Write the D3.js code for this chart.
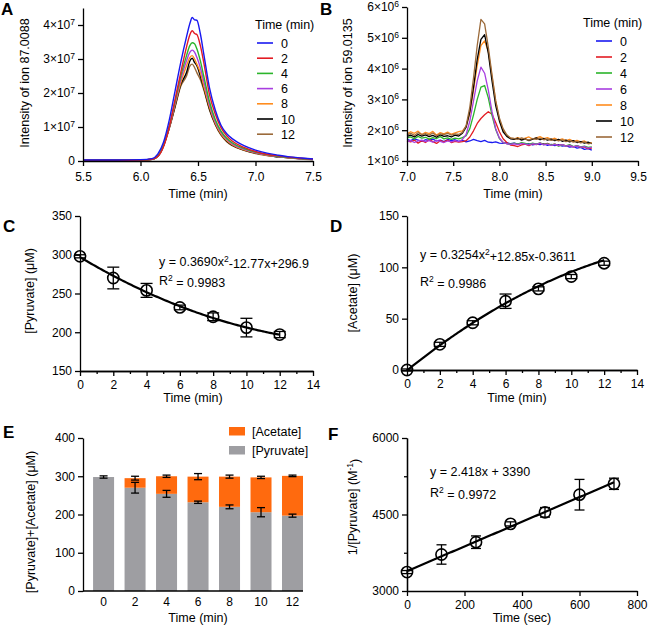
<!DOCTYPE html>
<html><head><meta charset="utf-8">
<script src="https://cdn.jsdelivr.net/npm/d3@7"></script>
<style>
body{margin:0;background:#fff;}
svg{display:block;font-family:"Liberation Sans",Arial,sans-serif;}
</style></head><body>
<svg id="c" width="648" height="632"></svg>
<script>
// ---------- DATA ----------
const seriesLabels = ["0","2","4","6","8","10","12"];
const seriesColors = ["#1818f0","#e31b23","#2bb52b","#a83ee0","#ff8c1e","#000000","#9b6a3a"];

// Panel A: retention time (min) and intensity of ion 87.0088 (x1e7)
const tA = [5.5,5.8,6.0,6.1,6.15,6.2,6.25,6.3,6.35,6.4,6.43,6.45,6.47,6.49,6.52,6.55,6.6,6.65,6.7,6.75,6.8,6.9,7.0,7.1,7.2,7.3,7.4,7.5];
const a0  = [0.03,0.03,0.04,0.07,0.20,0.55,1.20,2.05,2.90,3.65,4.05,4.22,4.15,4.14,3.75,3.15,2.15,1.50,1.05,0.80,0.65,0.45,0.32,0.23,0.17,0.12,0.09,0.06];
const a2  = [0.02,0.02,0.03,0.05,0.13,0.42,1.00,1.80,2.60,3.35,3.72,3.83,3.75,3.72,3.40,2.90,1.95,1.38,0.98,0.74,0.58,0.40,0.28,0.20,0.15,0.11,0.08,0.05];
const a4  = [0.02,0.02,0.03,0.05,0.14,0.45,1.02,1.75,2.50,3.10,3.40,3.48,3.45,3.30,2.95,2.50,1.75,1.22,0.88,0.67,0.53,0.37,0.26,0.19,0.14,0.10,0.07,0.05];
const a6  = [0.02,0.02,0.03,0.05,0.14,0.45,1.00,1.70,2.40,2.95,3.20,3.26,3.20,3.05,2.75,2.35,1.66,1.16,0.84,0.64,0.50,0.35,0.25,0.18,0.13,0.10,0.07,0.05];
const a8  = [0.02,0.02,0.03,0.05,0.14,0.45,0.98,1.65,2.30,2.80,3.05,3.10,3.00,2.85,2.60,2.20,1.58,1.11,0.80,0.60,0.47,0.33,0.24,0.17,0.13,0.09,0.07,0.05];
const a10 = [0.02,0.02,0.03,0.05,0.14,0.45,0.97,1.60,2.25,2.60,2.95,3.02,2.90,2.80,2.50,2.15,1.53,1.09,0.78,0.58,0.46,0.32,0.23,0.17,0.12,0.09,0.07,0.04];
const a12 = [0.02,0.02,0.03,0.05,0.14,0.45,0.96,1.58,2.20,2.50,2.80,2.85,2.75,2.60,2.40,2.10,1.50,1.07,0.76,0.57,0.45,0.31,0.22,0.16,0.12,0.09,0.06,0.04];
const aXTicks = [5.5,6.0,6.5,7.0,7.5];
const aYTicks = [0,1e7,2e7,3e7,4e7];

// Panel B: retention time (min) and intensity of ion 59.0135 (x1e6)
const tB = [7.00,7.04,7.08,7.12,7.16,7.20,7.24,7.28,7.32,7.36,7.40,7.44,7.48,7.52,7.56,7.60,7.64,7.68,7.72,7.76,7.80,7.84,7.88,7.92,7.96,8.00,8.04,8.08,8.12,8.16,8.20,8.24,8.28,8.32,8.36,8.40,8.44,8.48,8.52,8.56,8.60,8.64,8.68,8.72,8.76,8.80,8.84,8.88,8.92,8.96,9.00];
const b0  = [1.70,1.66,1.72,1.68,1.64,1.69,1.67,1.71,1.65,1.68,1.63,1.70,1.66,1.69,1.64,1.67,1.62,1.65,1.70,1.66,1.63,1.67,1.61,1.60,1.62,1.58,1.57,1.60,1.56,1.58,1.55,1.57,1.54,1.56,1.52,1.55,1.53,1.56,1.51,1.54,1.50,1.53,1.48,1.50,1.45,1.47,1.42,1.44,1.38,1.40,1.35];
const b2  = [1.65,1.62,1.68,1.58,1.66,1.60,1.70,1.63,1.57,1.66,1.62,1.68,1.60,1.64,1.61,1.63,1.66,1.78,1.98,2.22,2.38,2.50,2.60,2.52,2.25,1.95,1.72,1.60,1.52,1.50,1.47,1.52,1.55,1.50,1.56,1.53,1.58,1.54,1.57,1.52,1.55,1.50,1.53,1.49,1.51,1.46,1.49,1.44,1.46,1.40,1.42];
const b4  = [1.75,1.78,1.72,1.80,1.74,1.77,1.71,1.76,1.73,1.79,1.72,1.75,1.70,1.74,1.72,1.76,1.82,2.05,2.50,3.00,3.40,3.45,3.05,2.48,2.02,1.73,1.60,1.56,1.55,1.58,1.55,1.60,1.57,1.54,1.58,1.55,1.59,1.53,1.56,1.52,1.55,1.48,1.52,1.49,1.53,1.47,1.50,1.46,1.48,1.44,1.46];
const b6  = [1.62,1.66,1.60,1.65,1.68,1.63,1.66,1.61,1.67,1.64,1.60,1.65,1.62,1.66,1.63,1.70,1.86,2.30,2.95,3.60,4.05,3.85,3.30,2.60,2.05,1.75,1.60,1.56,1.54,1.56,1.53,1.57,1.55,1.52,1.56,1.54,1.58,1.52,1.55,1.51,1.54,1.50,1.53,1.48,1.51,1.46,1.49,1.45,1.47,1.42,1.44];
const b8  = [1.88,1.95,1.90,1.97,1.86,1.93,1.89,1.96,1.84,1.92,1.88,1.94,1.87,1.91,1.95,1.98,2.12,2.55,3.30,4.10,4.75,4.90,4.55,3.75,2.95,2.35,2.00,1.82,1.74,1.72,1.76,1.70,1.74,1.78,1.71,1.75,1.79,1.73,1.76,1.70,1.74,1.68,1.72,1.66,1.70,1.64,1.67,1.62,1.65,1.58,1.60];
const b10 = [1.80,1.84,1.78,1.86,1.81,1.85,1.79,1.83,1.77,1.85,1.80,1.82,1.78,1.84,1.81,1.90,2.10,2.60,3.40,4.30,4.95,5.10,4.50,3.60,2.80,2.30,1.95,1.80,1.72,1.70,1.74,1.68,1.72,1.66,1.71,1.75,1.69,1.73,1.68,1.71,1.66,1.70,1.64,1.68,1.62,1.66,1.60,1.63,1.58,1.61,1.56];
const b12 = [1.85,1.90,1.83,1.92,1.86,1.89,1.84,1.91,1.82,1.88,1.86,1.90,1.84,1.88,1.86,1.93,2.15,2.75,3.70,4.75,5.60,5.45,4.70,3.80,2.95,2.40,2.05,1.85,1.75,1.73,1.70,1.75,1.71,1.68,1.73,1.70,1.74,1.69,1.72,1.67,1.70,1.65,1.69,1.63,1.66,1.61,1.64,1.59,1.62,1.56,1.58];
const bXTicks = [7.0,7.5,8.0,8.5,9.0,9.5];
const bYTicks = [1e6,2e6,3e6,4e6,5e6,6e6];

// Panels C-F: sampling time (min)
const sampleTime = [0,2,4,6,8,10,12];
const pyruvate    = [298,270,254,232,220,206,197];
const pyruvateErr = [2,14,9,3,5,12,4];
const acetate     = [0,25,46,67,79,91,104];
const acetateErr  = [1,2,2,7,2,2,2];
const totalErr    = [3,5,3,8,4,3,2];
const cFit = [0.3690,-12.77,296.9];
const dFit = [-0.3254,12.85,-0.3611];
const fTimeSec = [0,120,240,360,480,600,720];
const invPyruvate    = [3371,3716,3957,4316,4543,4888,5102];
const invPyruvateErr = [30,190,123,40,94,300,110];
const fFit = [2.418,3390];

// ---------- DRAWING ----------
const svg = d3.select("#c");
const FONT = '"Liberation Sans",Arial,sans-serif';
const TICK_FS = 12, TITLE_FS = 12.5;

function styleAxis(g){
  g.attr("font-family",FONT).attr("font-size",TICK_FS);
  g.select(".domain").attr("stroke","#000").attr("stroke-width",1.3);
  g.selectAll(".tick line").attr("stroke","#000").attr("stroke-width",1.3);
  g.selectAll(".tick text").attr("fill","#000");
  return g;
}
function sciLabels(g, exp){
  g.selectAll(".tick text").each(function(d){
    const t = d3.select(this);
    if (d === 0) return;
    t.text(null);
    t.append("tspan").text(Math.round(d/Math.pow(10,exp)) + "×10");
    t.append("tspan").text(exp).attr("dy","-0.5em").attr("font-size",8.5);
  });
}
function letter(txt,x,y){
  svg.append("text").attr("x",x).attr("y",y).attr("font-size",17).attr("font-weight","bold")
    .attr("font-family",FONT).text(txt);
}
function xTitle(txt,x,y){
  svg.append("text").attr("x",x).attr("y",y).attr("text-anchor","middle")
    .attr("font-size",TITLE_FS).attr("font-family",FONT).text(txt);
}
function yTitle(x,y){
  return svg.append("text").attr("transform",`translate(${x},${y}) rotate(-90)`)
    .attr("text-anchor","middle").attr("font-size",TITLE_FS).attr("font-family",FONT);
}

// ---- Panel A ----
{
  const x = d3.scaleLinear([5.5,7.5],[83,313]);
  const y = d3.scaleLinear([0,4.5e7],[161,8]);
  const series = [a0,a2,a4,a6,a8,a10,a12];
  const line = d3.line().x((d,i)=>x(tA[i])).y(d=>y(d*1e7)).curve(d3.curveMonotoneX);
  for (let k=series.length-1;k>=0;k--){
    svg.append("path").attr("d",line(series[k])).attr("fill","none")
      .attr("stroke",seriesColors[k]).attr("stroke-width",1.4);
  }
  styleAxis(svg.append("g").attr("transform","translate(0,161)")
    .call(d3.axisBottom(x).tickValues(aXTicks).tickFormat(d3.format(".1f")).tickSize(5).tickPadding(6).tickSizeOuter(0)));
  const ga = styleAxis(svg.append("g").attr("transform","translate(83,0)")
    .call(d3.axisLeft(y).tickValues(aYTicks).tickSize(5).tickPadding(3).tickSizeOuter(0)));
  sciLabels(ga,7);
  xTitle("Time (min)",198,198);
  yTitle(29,83).text("Intensity of ion 87.0088");
  letter("A",1,15);
  const lg = svg.append("g").attr("font-family",FONT).attr("font-size",TITLE_FS);
  lg.append("text").attr("x",255).attr("y",29).text("Time (min)");
  seriesLabels.forEach((s,i)=>{
    const yy = 43 + i*15.2;
    lg.append("line").attr("x1",257).attr("x2",273).attr("y1",yy).attr("y2",yy)
      .attr("stroke",seriesColors[i]).attr("stroke-width",1.6);
    lg.append("text").attr("x",281).attr("y",yy).attr("dy","0.36em").text(s);
  });
}

// ---- Panel B ----
{
  const x = d3.scaleLinear([7.0,9.5],[407,638]);
  const y = d3.scaleLinear([1e6,6e6],[161,7]);
  const series = [b0,b2,b4,b6,b8,b10,b12];
  const line = d3.line().x((d,i)=>x(tB[i])).y(d=>y(d*1e6));
  series.forEach((s,k)=>{
    svg.append("path").attr("d",line(s)).attr("fill","none")
      .attr("stroke",seriesColors[k]).attr("stroke-width",1.3).attr("stroke-linejoin","round");
  });
  styleAxis(svg.append("g").attr("transform","translate(0,161)")
    .call(d3.axisBottom(x).tickValues(bXTicks).tickFormat(d3.format(".1f")).tickSize(5).tickPadding(6).tickSizeOuter(0)));
  const gb = styleAxis(svg.append("g").attr("transform","translate(407,0)")
    .call(d3.axisLeft(y).tickValues(bYTicks).tickSize(5).tickPadding(3).tickSizeOuter(0)));
  sciLabels(gb,6);
  xTitle("Time (min)",513,198);
  yTitle(352,83).text("Intensity of ion 59.0135");
  letter("B",320,15);
  const lg = svg.append("g").attr("font-family",FONT).attr("font-size",TITLE_FS);
  lg.append("text").attr("x",583).attr("y",27).text("Time (min)");
  seriesLabels.forEach((s,i)=>{
    const yy = 41 + i*16;
    lg.append("line").attr("x1",596).attr("x2",612).attr("y1",yy).attr("y2",yy)
      .attr("stroke",seriesColors[i]).attr("stroke-width",1.6);
    lg.append("text").attr("x",620).attr("y",yy).attr("dy","0.36em").text(s);
  });
}

function scatterPanel(opt){
  const {x,y,xs,ys,errs,fitFn,fitRange,capW} = opt;
  const pts = d3.range(fitRange[0], fitRange[1]+1e-9, (fitRange[1]-fitRange[0])/120);
  svg.append("path").attr("d", d3.line().x(d=>x(d)).y(d=>y(fitFn(d)))(pts))
    .attr("fill","none").attr("stroke","#000").attr("stroke-width",2.2);
  const g = svg.append("g").attr("stroke","#000").attr("stroke-width",1.3);
  xs.forEach((xv,i)=>{
    const e = errs[i];
    g.append("line").attr("x1",x(xv)).attr("x2",x(xv)).attr("y1",y(ys[i]-e)).attr("y2",y(ys[i]+e));
    [ys[i]-e, ys[i]+e].forEach(v=>g.append("line").attr("x1",x(xv)-capW).attr("x2",x(xv)+capW)
      .attr("y1",y(v)).attr("y2",y(v)));
  });
  svg.append("g").selectAll("circle").data(xs).join("circle")
    .attr("cx",d=>x(d)).attr("cy",(d,i)=>y(ys[i])).attr("r",5.6)
    .attr("fill","none").attr("stroke","#000").attr("stroke-width",1.6);
}
function eqText(x,y1,y2,eqParts,r2){
  const t = svg.append("text").attr("x",x).attr("y",y1).attr("font-size",TITLE_FS).attr("font-family",FONT);
  eqParts.forEach(p=>{
    if (p.sup) t.append("tspan").attr("dy","-0.45em").attr("font-size",8.5).text(p.sup);
    else t.append("tspan").attr("dy",p.after? "0.45em":null).text(p.t);
  });
  const r = svg.append("text").attr("x",x).attr("y",y2).attr("font-size",TITLE_FS).attr("font-family",FONT);
  r.append("tspan").text("R");
  r.append("tspan").attr("dy","-0.45em").attr("font-size",8.5).text("2");
  r.append("tspan").attr("dy","0.45em").text(" = " + r2);
}

// ---- Panel C ----
{
  const x = d3.scaleLinear([0,14],[80,313]);
  const y = d3.scaleLinear([150,350],[371,216]);
  scatterPanel({x,y,xs:sampleTime,ys:pyruvate,errs:pyruvateErr,
    fitFn:t=>cFit[0]*t*t+cFit[1]*t+cFit[2],fitRange:[0,12],capW:6});
  styleAxis(svg.append("g").attr("transform","translate(0,371)")
    .call(d3.axisBottom(x).tickValues([1,3,5,7,9,11,13]).tickFormat("").tickSize(3).tickSizeOuter(0)));
  styleAxis(svg.append("g").attr("transform","translate(0,371)")
    .call(d3.axisBottom(x).tickValues(d3.range(0,15,2)).tickSize(5).tickPadding(4).tickSizeOuter(0)));
  styleAxis(svg.append("g").attr("transform","translate(80,0)")
    .call(d3.axisLeft(y).tickValues([150,200,250,300,350]).tickSize(5).tickPadding(3).tickSizeOuter(0)));
  xTitle("Time (min)",193,402);
  yTitle(34,291).text("[Pyruvate] (μM)");
  letter("C",3,232);
  eqText(159,266,285,[{t:"y = 0.3690x"},{sup:"2"},{t:"-12.77x+296.9",after:true}],"0.9983");
}

// ---- Panel D ----
{
  const x = d3.scaleLinear([0,14],[407,637]);
  const y = d3.scaleLinear([0,150],[370,216]);
  scatterPanel({x,y,xs:sampleTime,ys:acetate,errs:acetateErr,
    fitFn:t=>dFit[0]*t*t+dFit[1]*t+dFit[2],fitRange:[0,12],capW:6});
  styleAxis(svg.append("g").attr("transform","translate(0,370)")
    .call(d3.axisBottom(x).tickValues([1,3,5,7,9,11,13]).tickFormat("").tickSize(3).tickSizeOuter(0)));
  styleAxis(svg.append("g").attr("transform","translate(0,370)")
    .call(d3.axisBottom(x).tickValues(d3.range(0,15,2)).tickSize(5).tickPadding(4).tickSizeOuter(0)));
  styleAxis(svg.append("g").attr("transform","translate(407,0)")
    .call(d3.axisLeft(y).tickValues([0,50,100,150]).tickSize(5).tickPadding(3).tickSizeOuter(0)));
  xTitle("Time (min)",517,402);
  yTitle(357,293).text("[Acetate] (μM)");
  letter("D",330,232);
  eqText(420,259,286,[{t:"y = 0.3254x"},{sup:"2"},{t:"+12.85x-0.3611",after:true}],"0.9986");
}

// ---- Panel E ----
{
  const cats = sampleTime.map(String);
  const x = d3.scaleBand().domain(cats).range([83,303]).paddingInner(0.333).paddingOuter(0.16).align(1);
  const y = d3.scaleLinear([0,400],[591,438]);
  const rows = sampleTime.map((t,i)=>({cat:String(t),pyr:pyruvate[i],ace:acetate[i]}));
  const stack = d3.stack().keys(["pyr","ace"])(rows);
  const colors = {pyr:"#9e9ea2", ace:"#ff6a0e"};
  stack.forEach(layer=>{
    svg.append("g").attr("fill",colors[layer.key]).selectAll("rect").data(layer).join("rect")
      .attr("x",d=>x(d.data.cat)).attr("width",x.bandwidth())
      .attr("y",d=>y(d[1])).attr("height",d=>y(d[0])-y(d[1]));
  });
  const g = svg.append("g").attr("stroke","#000").attr("stroke-width",1.3);
  function eb(cx,v,e){
    g.append("line").attr("x1",cx).attr("x2",cx).attr("y1",y(v-e)).attr("y2",y(v+e));
    [v-e,v+e].forEach(vv=>g.append("line").attr("x1",cx-4).attr("x2",cx+4).attr("y1",y(vv)).attr("y2",y(vv)));
  }
  rows.forEach((r,i)=>{
    const cx = x(r.cat)+x.bandwidth()/2;
    if (i>0) eb(cx,r.pyr,pyruvateErr[i]);
    eb(cx,r.pyr+r.ace,totalErr[i]);
  });
  const ax = svg.append("g").attr("transform","translate(0,591)")
    .call(d3.axisBottom(x).tickSize(0).tickPadding(6));
  styleAxis(ax);
  ax.select(".domain").attr("d",`M83,0H${x(cats[cats.length-1])+x.bandwidth()}`);
  styleAxis(svg.append("g").attr("transform","translate(83,0)")
    .call(d3.axisLeft(y).tickValues([0,100,200,300,400]).tickSize(5).tickPadding(3).tickSizeOuter(0)));
  xTitle("Time (min)",198,622);
  yTitle(35,522).text("[Pyruvate]+[Acetate] (μM)");
  letter("E",3,438);
  const lg = svg.append("g").attr("font-family",FONT).attr("font-size",TITLE_FS);
  [["ace","[Acetate]",427],["pyr","[Pyruvate]",446]].forEach(([k,txt,yy])=>{
    lg.append("rect").attr("x",229).attr("y",yy).attr("width",16).attr("height",8.5).attr("fill",colors[k]);
    lg.append("text").attr("x",252).attr("y",yy+4.5).attr("dy","0.36em").text(txt);
  });
}

// ---- Panel F ----
{
  const x = d3.scaleLinear([0,800],[407,637]);
  const y = d3.scaleLinear([3000,6000],[591,438]);
  scatterPanel({x,y,xs:fTimeSec,ys:invPyruvate,errs:invPyruvateErr,
    fitFn:t=>fFit[0]*t+fFit[1],fitRange:[0,720],capW:5});
  styleAxis(svg.append("g").attr("transform","translate(0,591)")
    .call(d3.axisBottom(x).tickValues([0,200,400,600,800]).tickFormat(d3.format("d")).tickSize(5).tickPadding(4).tickSizeOuter(0)));
  styleAxis(svg.append("g").attr("transform","translate(407,0)")
    .call(d3.axisLeft(y).tickValues([3750,5250]).tickFormat("").tickSize(3).tickSizeOuter(0)));
  styleAxis(svg.append("g").attr("transform","translate(407,0)")
    .call(d3.axisLeft(y).tickValues([3000,4500,6000]).tickFormat(d3.format("d")).tickSize(5).tickPadding(3).tickSizeOuter(0)));
  xTitle("Time (sec)",522,622);
  const t = yTitle(357,507);
  t.append("tspan").text("1/[Pyruvate] (M");
  t.append("tspan").attr("dy","-0.45em").attr("font-size",8.5).text("-1");
  t.append("tspan").attr("dy","0.45em").text(")");
  letter("F",328,440);
  svg.append("text").attr("x",430).attr("y",476).attr("font-size",TITLE_FS).attr("font-family",FONT)
    .text("y = 2.418x + 3390");
  const r = svg.append("text").attr("x",430).attr("y",497).attr("font-size",TITLE_FS).attr("font-family",FONT);
  r.append("tspan").text("R");
  r.append("tspan").attr("dy","-0.45em").attr("font-size",8.5).text("2");
  r.append("tspan").attr("dy","0.45em").text(" = 0.9972");
}
</script>
</body></html>
